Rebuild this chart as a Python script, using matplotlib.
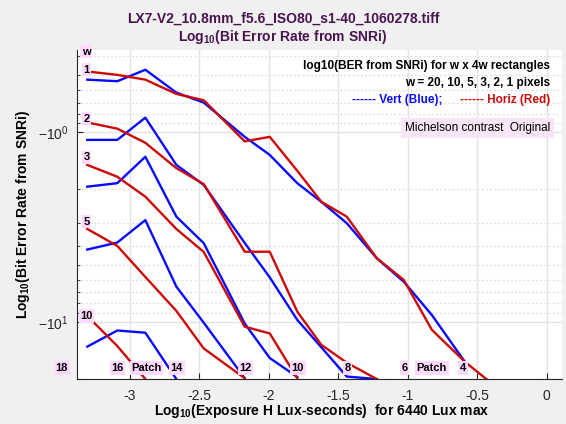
import numpy as np
import matplotlib.pyplot as plt
import matplotlib.ticker as tck

plt.rcParams['font.family'] = ['Liberation Sans', 'DejaVu Sans']
plt.rcParams['mathtext.fontset'] = 'custom'
plt.rcParams['mathtext.rm'] = 'Liberation Sans'
plt.rcParams['mathtext.bf'] = 'Liberation Sans:bold'

# Log10 exposure of the patches 17 .. 3
patch_x = [-3.306, -3.090, -2.888, -2.665, -2.468, -2.173, -1.993, -1.795,
           -1.622, -1.439, -1.223, -1.029, -0.827, -0.590, -0.424]

# log10(BER) curves, starting at patch 17 (vertical = blue, horizontal = red)
w1_vert = [-0.53, -0.54, -0.47, -0.62, -0.70, -1.06, -1.32, -1.86, -2.33, -3.02, -4.62, -6.14, -9.19, -16.2]
w1_horiz = [-0.48, -0.50, -0.53, -0.63, -0.68, -1.12, -1.06, -1.60, -2.33, -2.79, -4.62, -6.01, -11.0, -16.2, -20.3]
w2_vert = [-1.10, -1.10, -0.84, -1.49, -1.90, -3.84, -5.83, -9.76, -13.6, -19.4, -20.0]
w2_horiz = [-0.89, -0.96, -1.14, -1.55, -1.88, -4.27, -4.27, -8.83, -13.2, -16.4, -20.0]
w3_vert = [-1.94, -1.86, -1.35, -2.79, -3.85, -10.2, -15.5, -19.5]
w3_horiz = [-1.49, -1.72, -2.19, -3.24, -4.28, -10.6, -11.5, -19.8]
w5_vert = [-4.16, -3.82, -2.91, -6.52, -10.1, -19.8]
w5_horiz = [-3.24, -3.98, -5.80, -8.75, -13.8, -19.8]
w10_vert = [-13.5, -11.1, -11.4, -20.0]
w10_horiz = [-9.30, -13.4, -20.0]

# width labels on the left
w_labels = ['w', '1', '2', '3', '5', '10']
w_label_y = [-0.378, -0.47, -0.85, -1.36, -2.97, -9.3]

# patch labels along the bottom
patch_labels = ['18', '16', 'Patch', '14', '12', '10', '8', '6', 'Patch', '4']
patch_label_x = [-3.489, -3.088, -2.880, -2.662, -2.168, -1.791, -1.434, -1.022, -0.827, -0.604]

blue = '#0a0aff'
red = '#cc0a0a'
pink = '#ffd9ff'

fig = plt.figure(figsize=(5.66, 4.24), dpi=100, facecolor='#f0f0f0')
ax = fig.add_axes([0.136, 0.106, 0.857, 0.776])
ax.set_facecolor('white')

for v, h in [(w1_vert, w1_horiz), (w2_vert, w2_horiz), (w3_vert, w3_horiz),
             (w5_vert, w5_horiz), (w10_vert, w10_horiz)]:
    ax.plot(patch_x[:len(v)], v, color=blue, lw=1.7, zorder=3)
    ax.plot(patch_x[:len(h)], h, color=red, lw=1.7, zorder=3)

ax.set_yscale('symlog', linthresh=0.01)
ax.set_xticks([-3, -2.5, -2, -1.5, -1, -0.5, 0], labels=['-3', '-2.5', '-2', '-1.5', '-1', '-0.5', '0'])
ax.set_yticks([-10, -1], labels=[r'$-10^{1}$', r'$-10^{0}$'])
ax.set_yticks([-(k * 10.0 ** d) for d in (-1, 0) for k in range(2, 10)] + [-20], minor=True)
ax.yaxis.set_minor_formatter(tck.NullFormatter())
ax.set_xlim(-3.38, 0.11)
ax.set_ylim(-20, -0.37)

ax.tick_params(which='both', direction='in', colors='#262626', labelsize=10)
ax.tick_params(which='major', length=4)
ax.tick_params(which='minor', length=2.5)
ax.tick_params(axis='x', pad=7)
ax.tick_params(axis='y', pad=6)

ax.grid(True, which='major', color='#e3e3e3', lw=1.0, ls='-')
ax.grid(True, which='minor', axis='y', color='#e3e3e3', lw=1.0, ls=(0, (1.5, 1.5)))
ax.set_axisbelow(True)
for s in ['top', 'right']:
    ax.spines[s].set_visible(False)
for s in ['left', 'bottom']:
    ax.spines[s].set_color('#262626')

tb = dict(fontsize=8, fontweight='bold', ha='center', va='center', zorder=5, clip_on=False)
for lab, yy in zip(w_labels, w_label_y):
    ax.text(-3.312, yy, lab, bbox=dict(boxstyle='square,pad=0.15', fc=pink, ec='none'), **tb)
for lab, xx in zip(patch_labels, patch_label_x):
    ax.text(xx, -17.5, lab, bbox=dict(boxstyle='square,pad=0.15', fc=pink, ec='none'), **tb)

ax.text(0.975, 0.951, 'log10(BER from SNRi) for w x 4w rectangles', transform=ax.transAxes,
        ha='right', va='center', fontsize=8.5, fontweight='bold')
ax.text(0.975, 0.9, 'w = 20, 10, 5, 3, 2, 1 pixels', transform=ax.transAxes,
        ha='right', va='center', fontsize=8.5, fontweight='bold')
ax.text(0.7526, 0.848, '------ Vert (Blue);', transform=ax.transAxes, color=blue,
        ha='right', va='center', fontsize=8.5, fontweight='bold')
ax.text(0.975, 0.848, '------ Horiz (Red)', transform=ax.transAxes, color=red,
        ha='right', va='center', fontsize=8.5, fontweight='bold')
ax.text(0.975, 0.762, 'Michelson contrast  Original', transform=ax.transAxes,
        ha='right', va='center', fontsize=8.5,
        bbox=dict(boxstyle='square,pad=0.35', fc='#f8e6f8', ec='none'))

title_col = '#4a1450'
fig.text(0.5, 1 - 19 / 424, 'LX7-V2_10.8mm_f5.6_ISO80_s1-40_1060278.tiff', ha='center', va='center',
         fontsize=10, fontweight='bold', color=title_col)
fig.text(0.5, 1 - 37 / 424, r'Log$_\mathbf{10}$(Bit Error Rate from SNRi)', ha='center', va='center',
         fontsize=10, fontweight='bold', color=title_col)

ax.set_xlabel(r'Log$_\mathbf{10}$(Exposure H Lux-seconds)  for 6440 Lux max', fontsize=10, fontweight='bold')
ax.xaxis.set_label_coords(0.505, -0.07)
ax.set_ylabel(r'Log$_\mathbf{10}$(Bit Error Rate from SNRi)', fontsize=10, fontweight='bold')
ax.yaxis.set_label_coords(-0.093, 0.5)

fig.savefig('out.png', dpi=100, facecolor=fig.get_facecolor())
